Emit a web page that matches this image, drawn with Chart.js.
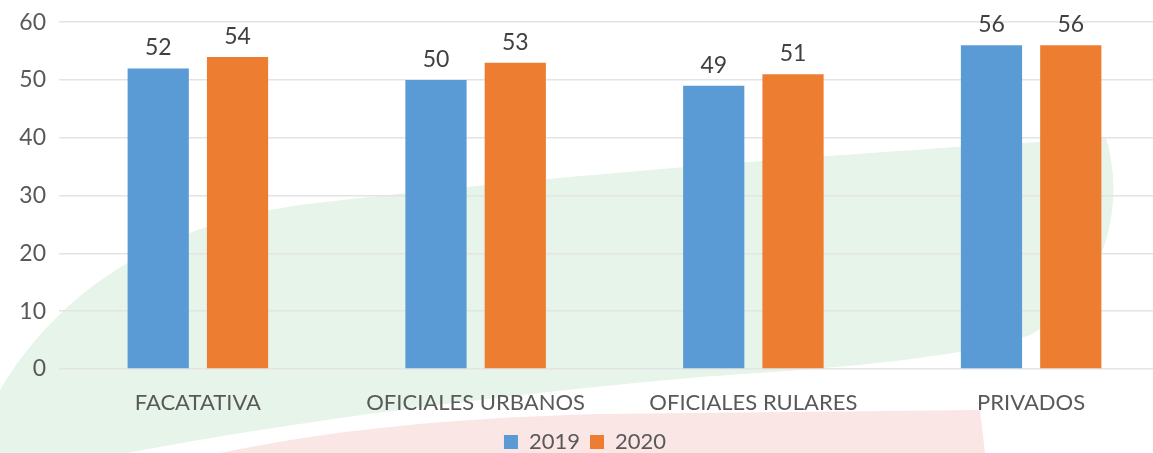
<!DOCTYPE html>
<html>
<head>
<meta charset="utf-8">
<script src="https://cdn.jsdelivr.net/npm/chart.js@4"></script>
<style>
    html, body { margin: 0; padding: 0; overflow: hidden; background: #fff; }
    #wrap { width: 1170px; height: 463px; position: relative; }
</style>
</head>
<body>
<div id="wrap"><canvas id="chart"></canvas></div>
<script>
const categories = ['FACATATIVA', 'OFICIALES URBANOS', 'OFICIALES RULARES', 'PRIVADOS'];
const values2019 = [52, 50, 49, 56];
const values2020 = [54, 53, 51, 56];
const yTicks = [0, 10, 20, 30, 40, 50, 60];

const fontName = "Lato, 'Open Sans', sans-serif";

// fondo con la marca de agua (verde y rosado)
const watermark = {
    id: 'watermark',
    beforeDraw(chart) {
        const ctx = chart.ctx;
        ctx.save();
        ctx.fillStyle = '#e6f4e9';
        ctx.beginPath();
        ctx.moveTo(0, 390);
        ctx.bezierCurveTo(60, 290, 160, 225, 300, 205);
        ctx.bezierCurveTo(600, 170, 900, 150, 1106, 138);
        ctx.bezierCurveTo(1125, 200, 1110, 290, 1030, 335);
        ctx.bezierCurveTo(950, 362, 800, 370, 700, 377);
        ctx.bezierCurveTo(500, 395, 300, 420, 127, 453);
        ctx.lineTo(0, 453);
        ctx.closePath();
        ctx.fill();
        ctx.fillStyle = '#fbe6e6';
        ctx.beginPath();
        ctx.moveTo(220, 453);
        ctx.bezierCurveTo(330, 430, 450, 418, 600, 414);
        ctx.lineTo(980, 410);
        ctx.lineTo(985, 453);
        ctx.closePath();
        ctx.fill();
        ctx.restore();
    }
};

// etiquetas de valor encima de cada barra
const valueLabels = {
    id: 'valueLabels',
    afterDatasetsDraw(chart) {
        const ctx = chart.ctx;
        ctx.save();
        ctx.font = '23px ' + fontName;
        ctx.fillStyle = '#404040';
        ctx.textAlign = 'center';
        ctx.textBaseline = 'bottom';
        chart.data.datasets.forEach((ds, i) => {
            chart.getDatasetMeta(i).data.forEach((bar, j) => {
                ctx.fillText(ds.data[j], bar.x, bar.y - 9);
            });
        });
        ctx.restore();
    }
};

new Chart(document.getElementById('chart'), {
    type: 'bar',
    data: {
        labels: categories,
        datasets: [
            { label: '2019', data: values2019, backgroundColor: '#5b9bd5' },
            { label: '2020', data: values2020, backgroundColor: '#ed7d31' }
        ]
    },
    options: {
        responsive: true,
        maintainAspectRatio: false,
        animation: false,
        layout: { padding: { top: 20, left: 0, right: 0, bottom: 0 } },
        datasets: {
            bar: { barPercentage: 0.772, categoryPercentage: 0.571 }
        },
        scales: {
            x: {
                grid: { display: false },
                border: { display: false },
                ticks: { color: '#595959', font: { family: fontName, size: 22 }, padding: 13 },
                afterFit(scale) { scale.height = 52; }
            },
            y: {
                min: 0,
                max: 60,
                afterBuildTicks(scale) { scale.ticks = yTicks.map(v => ({ value: v })); },
                grid: { color: '#e4e4e4', lineWidth: 1.5, drawTicks: false },
                border: { display: false },
                ticks: { color: '#595959', font: { family: fontName, size: 23, lineHeight: 0.8 }, padding: 13 },
                afterFit(scale) { scale.width = 59; }
            }
        },
        plugins: {
            legend: {
                position: 'bottom',
                labels: {
                    color: '#595959',
                    font: { family: fontName, size: 22 },
                    boxWidth: 14,
                    boxHeight: 14,
                    padding: 10
                }
            },
            tooltip: { enabled: false }
        }
    },
    plugins: [watermark, valueLabels]
});
</script>
</body>
</html>
